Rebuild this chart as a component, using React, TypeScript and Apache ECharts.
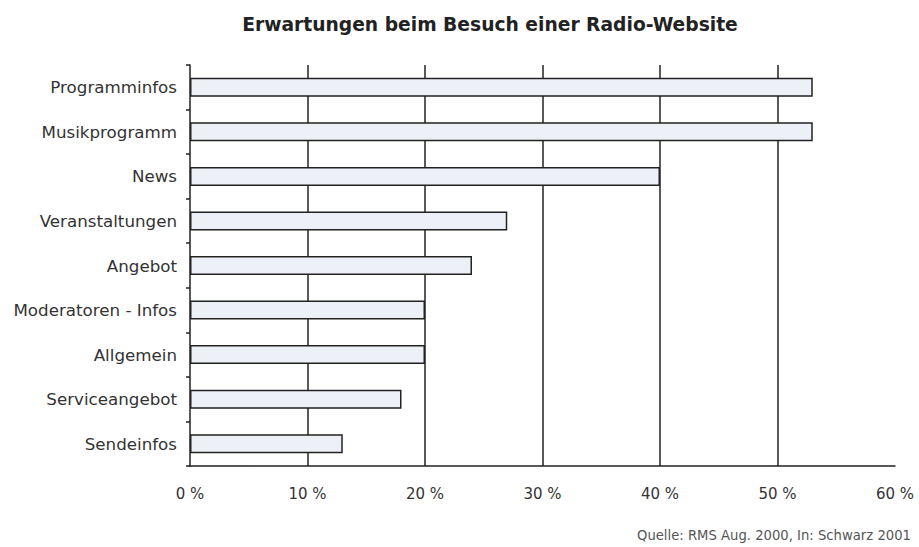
import React, { useEffect, useRef } from "react";
import * as echarts from "echarts";

const categories = [
  "Programminfos",
  "Musikprogramm",
  "News",
  "Veranstaltungen",
  "Angebot",
  "Moderatoren - Infos",
  "Allgemein",
  "Serviceangebot",
  "Sendeinfos",
];
const values = [53, 53, 40, 27, 24, 20, 20, 18, 13];
const titleText = "Erwartungen beim Besuch einer Radio-Website";
const sourceText = "Quelle: RMS Aug. 2000, In: Schwarz 2001";

const FONT = "DejaVu Sans, Verdana, sans-serif";

export default function App() {
  const ref = useRef<HTMLDivElement>(null);
  useEffect(() => {
    if (!ref.current) return;
    const chart = echarts.init(ref.current, null, { renderer: "svg" });
    chart.setOption({
      animation: false,
      backgroundColor: "#ffffff",
      title: {
        text: titleText,
        left: 485,
        textAlign: "center",
        top: 10,
        textStyle: {
          fontFamily: FONT,
          fontSize: 18.7,
          fontWeight: "bold",
          color: "#222",
        },
      },
      grid: { left: 190, right: 24, top: 65, bottom: 81, containLabel: false },
      xAxis: {
        type: "value",
        min: 0,
        max: 60,
        interval: 10,
        axisLine: { show: true, lineStyle: { color: "#222", width: 1.5 } },
        axisTick: { show: false },
        axisLabel: {
          formatter: "{value} %",
          margin: 20,
          fontFamily: FONT,
          fontSize: 15,
          color: "#333",
        },
        splitLine: {
          show: true,
          showMinLine: false,
          showMaxLine: false,
          lineStyle: { color: "#222", width: 1.5 },
        },
      },
      yAxis: {
        type: "category",
        data: categories,
        inverse: true,
        axisLine: { show: true, lineStyle: { color: "#222", width: 1.5 } },
        axisTick: { show: true, length: 4, lineStyle: { color: "#222", width: 1.5 } },
        axisLabel: {
          margin: 13,
          fontFamily: FONT,
          fontSize: 16.7,
          color: "#333",
        },
      },
      series: [
        {
          type: "bar",
          data: values,
          barWidth: 19,
          itemStyle: {
            color: "#eef0f8",
            borderColor: "#222",
            borderWidth: 1.5,
          },
        },
      ],
      graphic: [
        {
          type: "text",
          left: 637,
          top: 529,
          style: {
            text: sourceText,
            fontFamily: FONT,
            fontSize: 13.2,
            fill: "#555",
          },
        },
      ],
    });
    return () => chart.dispose();
  }, []);
  return (
    <div
      ref={ref}
      style={{ position: "fixed", left: 0, top: 0, width: 919, height: 547, overflow: "hidden" }}
    />
  );
}
